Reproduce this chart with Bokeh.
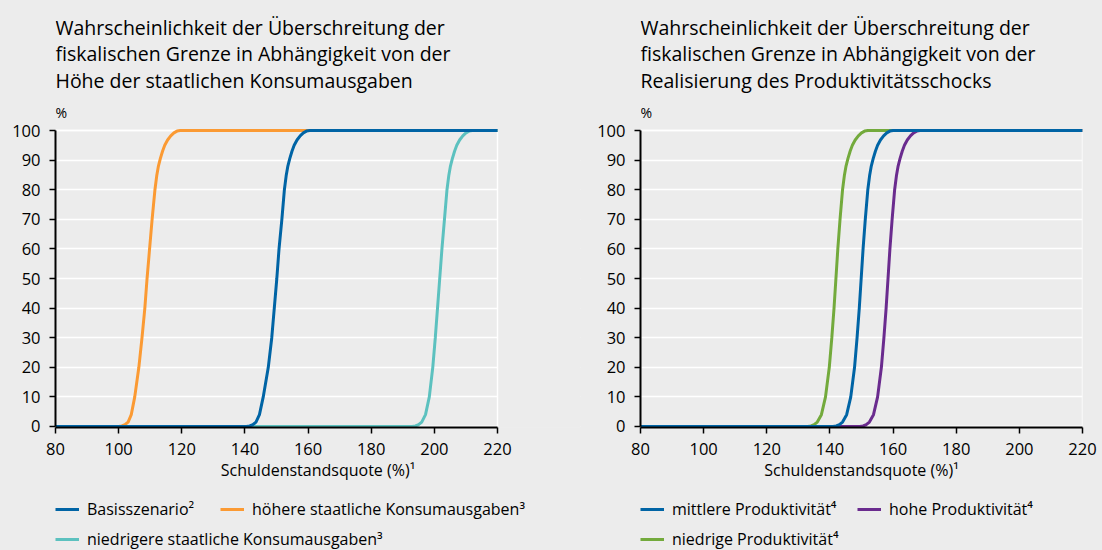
from bokeh.plotting import figure
from bokeh.layouts import row, column
from bokeh.models import Label, Legend, LegendItem, FixedTicker, Range1d, BoxAnnotation
from bokeh.embed import file_html
from bokeh.resources import INLINE

# ---------------- data ----------------
x_ticks = [80, 100, 120, 140, 160, 180, 200, 220]
y_ticks = [0, 10, 20, 30, 40, 50, 60, 70, 80, 90, 100]

left_title = ["Wahrscheinlichkeit der Überschreitung der",
              "fiskalischen Grenze in Abhängigkeit von der",
              "Höhe der staatlichen Konsumausgaben"]
right_title = ["Wahrscheinlichkeit der Überschreitung der",
               "fiskalischen Grenze in Abhängigkeit von der",
               "Realisierung des Produktivitätsschocks"]
x_label = "Schuldenstandsquote (%)¹"
y_unit = "%"

# left panel
basis_label = "Basisszenario²"
basis_x = [80, 140.5, 141.5, 142.5, 143.5, 144.6, 145.8, 147.4, 148.5, 149.3, 150.1, 150.8,
           151.7, 152.5, 153.1, 153.6, 154.2, 154.9, 155.6, 156.5, 157.5, 158.5, 159.5, 160.5, 220]
basis_y = [0, 0, 0.2, 0.6, 1.5, 4, 10, 20, 30, 40, 50, 60,
           70, 80, 85, 88, 90.5, 93, 95, 96.8, 98.2, 99.2, 99.8, 100, 100]

hoch_label = "höhere staatliche Konsumausgaben³"
hoch_x = [80, 100, 101, 102, 103, 104, 105.1, 106.4, 107.4, 108.3, 109, 109.8,
          110.6, 111.5, 112.1, 112.6, 113.2, 113.9, 114.6, 115.5, 116.5, 117.5, 118.5, 119.5, 220]
hoch_y = [0, 0, 0.2, 0.6, 1.5, 4, 10, 20, 30, 40, 50, 60,
          70, 80, 85, 88, 90.5, 93, 95, 96.8, 98.2, 99.2, 99.8, 100, 100]

niedrig_label = "niedrigere staatliche Konsumausgaben³"
niedrig_x = [80, 193, 194, 195, 196, 197.2, 198.4, 199.5, 200.3, 201, 201.7, 202.4,
             203.2, 204, 204.6, 205.1, 205.7, 206.4, 207.1, 208, 209, 210, 211, 212, 220]
niedrig_y = [0, 0, 0.2, 0.6, 1.5, 4, 10, 20, 30, 40, 50, 60,
             70, 80, 85, 88, 90.5, 93, 95, 96.8, 98.2, 99.2, 99.8, 100, 100]

# right panel
mittel_label = "mittlere Produktivität⁴"
mittel_x = [80, 141, 142, 143, 144, 145.3, 146.6, 147.8, 148.6, 149.3, 149.9, 150.5,
            151.2, 152, 152.6, 153.1, 153.7, 154.4, 155.1, 156, 157, 158, 159, 160, 220]
mittel_y = [0, 0, 0.2, 0.6, 1.5, 4, 10, 20, 30, 40, 50, 60,
            70, 80, 85, 88, 90.5, 93, 95, 96.8, 98.2, 99.2, 99.8, 100, 100]

hohe_label = "hohe Produktivität⁴"
hohe_x = [80, 149.5, 150.5, 151.5, 152.5, 153.8, 155.1, 156.3, 157.1, 157.8, 158.4, 159,
          159.7, 160.5, 161.1, 161.6, 162.2, 162.9, 163.6, 164.5, 165.5, 166.5, 167.5, 168.5, 220]
hohe_y = [0, 0, 0.2, 0.6, 1.5, 4, 10, 20, 30, 40, 50, 60,
          70, 80, 85, 88, 90.5, 93, 95, 96.8, 98.2, 99.2, 99.8, 100, 100]

niedrige_label = "niedrige Produktivität⁴"
niedrige_x = [80, 133, 134, 135, 136, 137.3, 138.6, 139.8, 140.6, 141.3, 141.9, 142.5,
              143.2, 144, 144.6, 145.1, 145.7, 146.4, 147.1, 148, 149, 150, 151, 152, 220]
niedrige_y = [0, 0, 0.2, 0.6, 1.5, 4, 10, 20, 30, 40, 50, 60,
              70, 80, 85, 88, 90.5, 93, 95, 96.8, 98.2, 99.2, 99.8, 100, 100]

# ---------------- style ----------------
BG = "#ececec"
FONT = "Open Sans"
TXT = "#000000"
C_BLUE = "#0064a5"
C_ORANGE = "#fb9a33"
C_TEAL = "#5cc1bf"
C_GREEN = "#73aa3c"
C_PURPLE = "#6a2b8e"

LEFT_BORDER = 55
PX_PER_X = 442 / 140.0      # plot area: 80..220 over 442 px
FRAME_H = 427               # frame reaches the top of the page; titles live inside it
MAIN_BOTTOM = 61
MAIN_H = FRAME_H + MAIN_BOTTOM
LEG_H = 550 - MAIN_H


def make_panel(width, right_border, title_lines, series, legend_items):
    frame_w = width - LEFT_BORDER - right_border
    x_end = 80 + frame_w / PX_PER_X          # frame may run past 220 (blank area)
    p = figure(width=width, height=MAIN_H, output_backend="svg", toolbar_location=None,
               x_range=Range1d(80, x_end), y_range=Range1d(-0.338, 143.92),
               min_border_left=LEFT_BORDER, min_border_right=right_border,
               min_border_top=0, min_border_bottom=MAIN_BOTTOM,
               background_fill_color=BG, border_fill_color=BG, outline_line_color=None)
    p.xaxis.ticker = FixedTicker(ticks=x_ticks)
    p.yaxis.ticker = FixedTicker(ticks=y_ticks)
    for ax in (p.xaxis[0], p.yaxis[0]):
        ax.axis_line_color = "black"
        ax.axis_line_width = 2
        ax.major_tick_line_color = "black"
        ax.major_tick_line_width = 1.5
        ax.major_tick_in = 0
        ax.major_tick_out = 6
        ax.minor_tick_line_color = None
        ax.major_label_text_font = FONT
        ax.major_label_text_font_size = "16.5px"
        ax.major_label_text_color = TXT
    p.xaxis.bounds = (80, 220)
    p.yaxis.bounds = (0, 100)
    p.yaxis.major_label_standoff = 9
    p.xaxis.major_label_standoff = 9
    p.xaxis.axis_label = x_label
    p.xaxis.axis_label_text_font = FONT
    p.xaxis.axis_label_text_font_size = "16px"
    p.xaxis.axis_label_text_font_style = "normal"
    p.xaxis.axis_label_text_color = TXT
    p.xaxis.axis_label_standoff = 1

    p.xgrid.visible = False
    p.ygrid.ticker = FixedTicker(ticks=y_ticks)
    p.ygrid.grid_line_color = "white"
    p.ygrid.grid_line_width = 1.5
    # hide the grid beyond the plot area, then draw the white plot-area border
    p.add_layout(BoxAnnotation(left=220, fill_color=BG, fill_alpha=1, line_color=None,
                               level="underlay"))
    p.add_layout(BoxAnnotation(left=80, right=220, bottom=0, top=100, fill_alpha=0,
                               line_color="white", line_width=1.5, line_alpha=1,
                               level="underlay"))

    for xs, ys, col in series:
        p.line(xs, ys, line_color=col, line_width=3)

    for i, t in enumerate(title_lines):
        p.add_layout(Label(x=0, y=FRAME_H - (26.7 + 26.7 * i), x_units="screen",
                           y_units="screen", text=t, text_font=FONT, text_font_size="19.5px",
                           text_color=TXT, text_baseline="alphabetic", text_align="left"))
    p.add_layout(Label(x=0, y=FRAME_H - 112, x_units="screen", y_units="screen",
                       text=y_unit, text_font=FONT, text_font_size="14px", text_color=TXT,
                       text_baseline="middle", text_align="left"))

    # legend strip below the chart (its own figure, same borders so frames line up)
    lf = figure(width=width, height=LEG_H, output_backend="svg", toolbar_location=None,
                x_axis_type=None, y_axis_type=None, x_range=Range1d(0, 1), y_range=Range1d(0, 1),
                min_border_left=LEFT_BORDER, min_border_right=right_border,
                min_border_top=0, min_border_bottom=0,
                background_fill_color=BG, border_fill_color=BG, outline_line_color=None)
    lf.grid.visible = False
    proxies = {}
    for xs, ys, col in series:
        # same series; they fall outside this strip's ranges and are clipped away
        proxies[col] = lf.line(xs, ys, line_color=col, line_width=3)
    for lab, col, lx, center in legend_items:
        leg = Legend(items=[LegendItem(label=lab, renderers=[proxies[col]])],
                     location=(lx, LEG_H - center - 11), orientation="horizontal",
                     padding=0, margin=0, spacing=0, label_standoff=8,
                     glyph_width=24, glyph_height=22, label_height=22,
                     border_line_color=None, background_fill_alpha=0,
                     label_text_font=FONT, label_text_font_size="16px", label_text_color=TXT)
        lf.add_layout(leg)
    return column(p, lf)


left = make_panel(585, 5, left_title,
                  [(hoch_x, hoch_y, C_ORANGE), (niedrig_x, niedrig_y, C_TEAL),
                   (basis_x, basis_y, C_BLUE)],
                  [(basis_label, C_BLUE, 0, 21), (hoch_label, C_ORANGE, 165, 21),
                   (niedrig_label, C_TEAL, 0, 51)])

right = make_panel(515, 18, right_title,
                   [(niedrige_x, niedrige_y, C_GREEN), (hohe_x, hohe_y, C_PURPLE),
                    (mittel_x, mittel_y, C_BLUE)],
                   [(mittel_label, C_BLUE, 0, 21), (hohe_label, C_PURPLE, 217, 21),
                    (niedrige_label, C_GREEN, 0, 51)])

layout = row(left, right)
html = file_html(layout, INLINE, title="Fiskalische Grenze")
html = html.replace("</head>", "<style>html,body{background-color:#ececec;}</style></head>", 1)
open("out.html", "w").write(html)
